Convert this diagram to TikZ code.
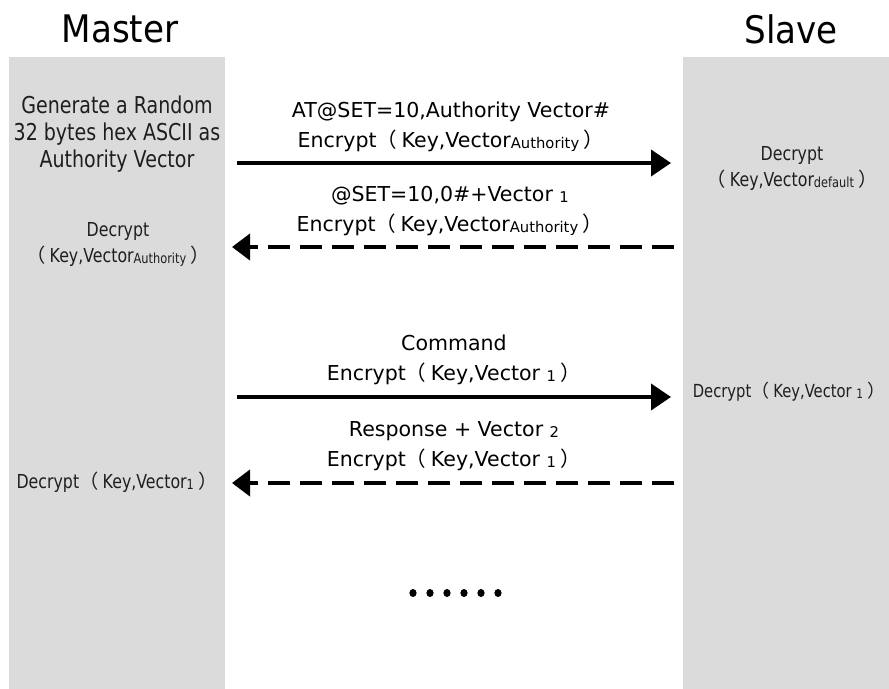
\documentclass[tikz,border=0pt]{standalone}
\usepackage{fontspec}
\setmainfont{DejaVu Sans}
\newfontfamily\narrowfont[FakeStretch=0.82]{DejaVu Sans}
\newfontfamily\titlefont[FakeStretch=0.9]{DejaVu Sans}
\newfontfamily\cjkfont{Noto Sans CJK SC}
\usetikzlibrary{arrows.meta}
\definecolor{panelgrey}{HTML}{DBDBDB}
\definecolor{inktext}{HTML}{1E1E1E}
\newcommand\lpar{{\cjkfont （}\hspace{0.22em}}
\newcommand\rpar{\hspace{0.22em}{\cjkfont ）}}
\newcommand\vsub[1]{\raisebox{-0.1ex}{\scalebox{0.72}{#1}}}
\tikzset{
  panel/.style={fill=panelgrey, draw=none},
  title/.style={font=\titlefont\fontsize{27}{30}\selectfont, text=black, inner sep=0pt},
  paneltext/.style={font=\narrowfont\fontsize{16.5}{19.2}\selectfont, align=center, text=inktext, inner sep=0pt},
  smalltext/.style={font=\narrowfont\fontsize{13.7}{18.5}\selectfont, align=center, text=inktext, inner sep=0pt},
  msgtext/.style={font=\fontsize{14.6}{21.3}\selectfont, align=center, text=black, inner sep=0pt},
  sendarrow/.style={line width=0.1cm, -{Triangle[length=0.5cm,width=0.65cm]}},
  replyarrow/.style={line width=0.1cm, dash pattern=on 0.55cm off 0.25cm, -{Triangle[length=0.45cm,width=0.65cm]}},
}
\begin{document}
\begin{tikzpicture}[x=0.025cm, y=-0.025cm]
\useasboundingbox (0,0) rectangle (889,689);
\fill[white] (0,0) rectangle (889,689);
% panels
\path[panel] (9,57) rectangle (225,689);
\path[panel] (683,57) rectangle (889,689);
% titles
\node[title] (master) at (120,29) {Master};
\node[title] (slave) at (791,29) {Slave};
% master side texts
\node[paneltext] (gen) at (117,134) {Generate a Random\\32 bytes hex ASCII as\\Authority Vector};
\node[smalltext] (mdec1) at (118,244) {Decrypt\\\lpar Key,Vector\vsub{Authority}\rpar};
\node[smalltext] (mdec2) at (117,482) {Decrypt\lpar Key,Vector\vsub{1}\rpar};
% slave side texts
\node[smalltext] (sdec1) at (792,168) {Decrypt\\\lpar Key,Vector\vsub{default}\rpar};
\node[smalltext, font=\narrowfont\fontsize{12.8}{18}\selectfont] (sdec2) at (789,392) {Decrypt\lpar Key,Vector \vsub{1}\rpar};
% message labels
\node[msgtext] (m1) at (451,127) {AT@SET=10,Authority Vector\#\\Encrypt\lpar Key,Vector\vsub{Authority}\rpar};
\node[msgtext] (m2) at (450,211) {@SET=10,0\#+Vector \vsub{1}\\Encrypt\lpar Key,Vector\vsub{Authority}\rpar};
\node[msgtext] (m3) at (454,360) {Command\\Encrypt\lpar Key,Vector \vsub{1}\rpar};
\node[msgtext] (m4) at (454,446) {Response + Vector \vsub{2}\\Encrypt\lpar Key,Vector \vsub{1}\rpar};
% arrow end points
\coordinate (a1s) at (237,163);
\coordinate (a1e) at (671,163);
\coordinate (a2s) at (674,247);
\coordinate (a2e) at (232,247);
\coordinate (a3s) at (237,397);
\coordinate (a3e) at (671,397);
\coordinate (a4s) at (674,483);
\coordinate (a4e) at (232,483);
\draw[sendarrow] (a1s) -- (a1e);
\draw[replyarrow] (a2s) -- (a2e);
\draw[sendarrow] (a3s) -- (a3e);
\draw[replyarrow] (a4s) -- (a4e);
% continuation dots
\foreach \i in {0,...,5}
  \fill[black] (413+17*\i,593) ellipse [x radius=0.09cm, y radius=0.1cm];
\end{tikzpicture}
\end{document}
